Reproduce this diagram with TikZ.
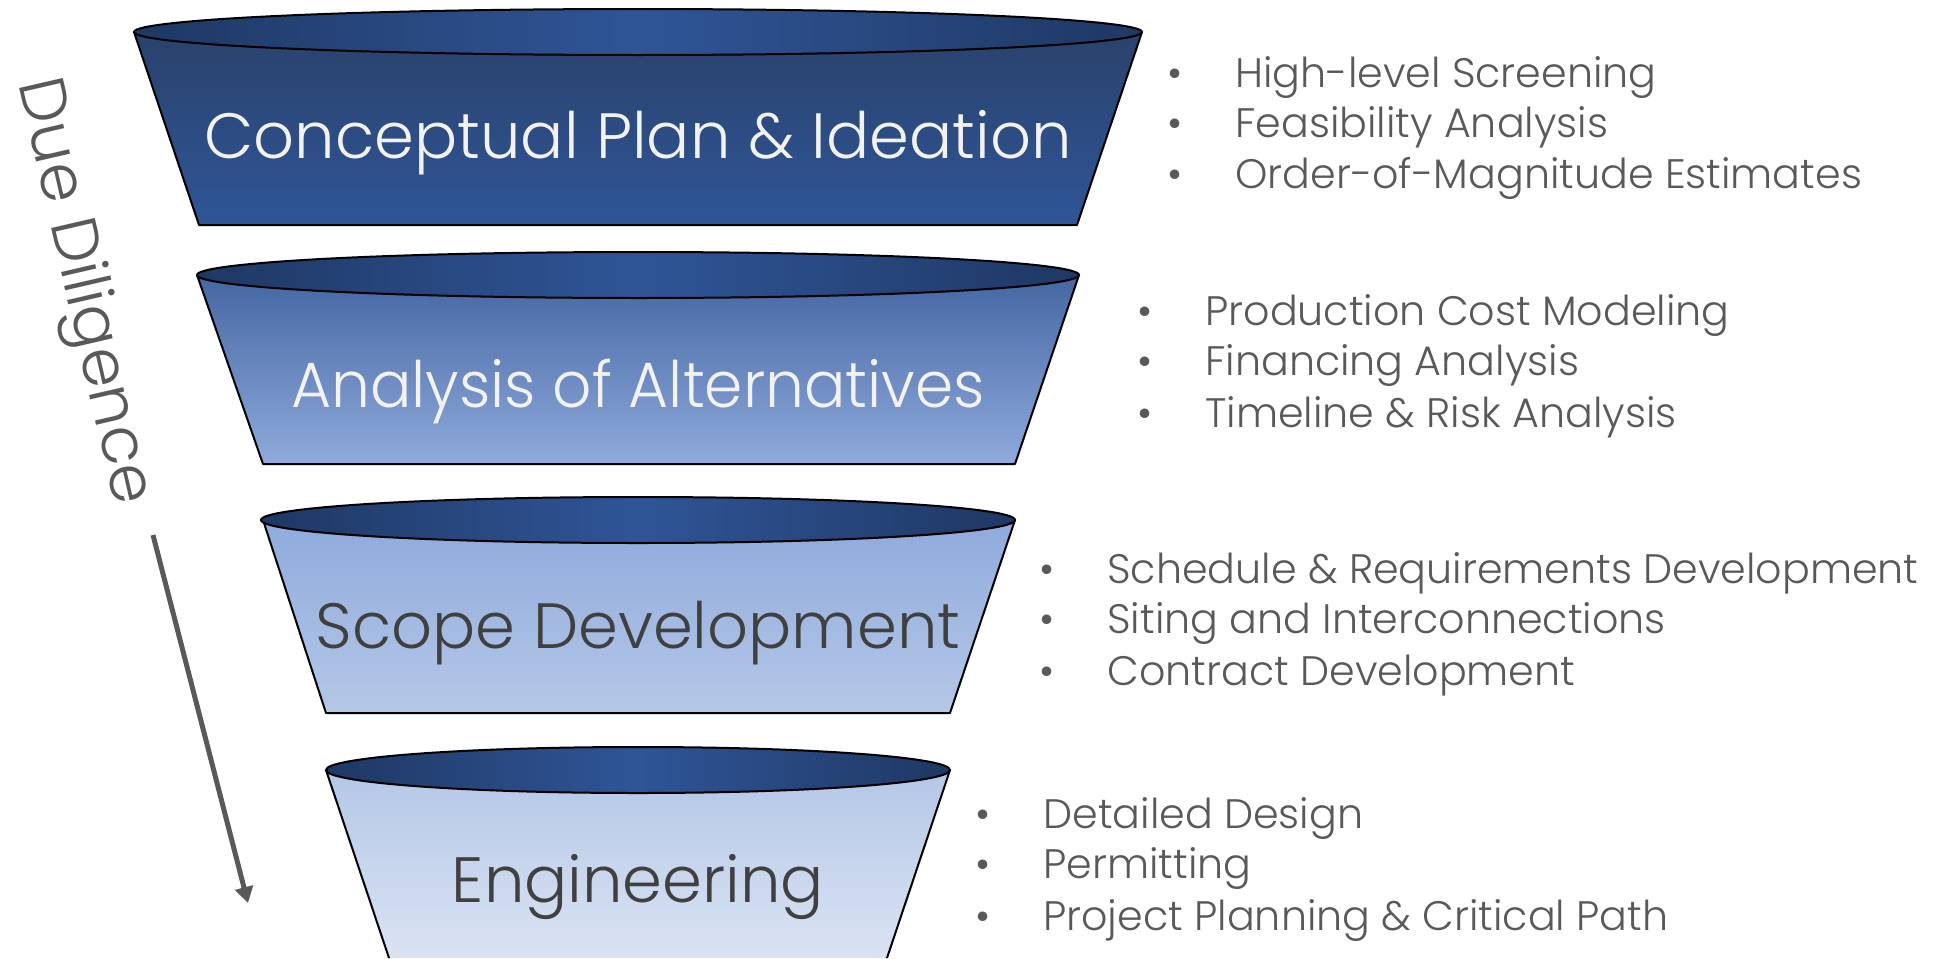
\documentclass[tikz,border=0pt]{standalone}
\usepackage{fontspec}
\setmainfont{Poppins}[UprightFont=* Light]
\usetikzlibrary{arrows.meta}

\definecolor{rimdark}{HTML}{1F3864}
\definecolor{rimlight}{HTML}{2F5597}
\definecolor{lightwhite}{HTML}{F2F2F2}
\definecolor{darkgray}{HTML}{404040}
\definecolor{midgray}{HTML}{595959}

\newcommand{\bull}{\makebox[34pt][l]{•}}

\tikzset{
  rim/.style={draw=black, line width=1pt, left color=rimdark, right color=rimdark, middle color=rimlight},
  side/.style={draw=black, line width=1pt, line join=round},
  stage/.style={anchor=base, inner sep=0pt, font=\fontsize{32}{32}\selectfont},
  item/.style={anchor=base west, inner sep=0pt, text=midgray, font=\fontsize{20.6}{21}\selectfont},
}

\begin{document}
\begin{tikzpicture}[x=0.5pt, y=-0.5pt]
  \useasboundingbox (0,0) rectangle (1947,958);

  \begin{scope}
    \clip (0,0) rectangle (1947,958);

    % first cup
    \shade[top color=rimdark!95!white, bottom color=rimlight] (134,32) -- (199,225) -- (1077,225) -- (1142,32) -- cycle;
    \draw[side] (134,32) -- (199,225) -- (1077,225) -- (1142,32);
    \path[rim] (638,32) ellipse [x radius=252pt, y radius=11.5pt];

    % second cup
    \shade[top color=rimlight!90!white, bottom color={rgb,255:red,143;green,170;blue,220}] (197,275) -- (263,464) -- (1015,464) -- (1079,275) -- cycle;
    \draw[side] (197,275) -- (263,464) -- (1015,464) -- (1079,275);
    \path[rim] (638,275) ellipse [x radius=220.5pt, y radius=11.5pt];

    % third cup
    \shade[top color={rgb,255:red,143;green,170;blue,220}, bottom color={rgb,255:red,180;green,199;blue,231}] (263,520) -- (326,713) -- (950,713) -- (1015,520) -- cycle;
    \draw[side] (263,520) -- (326,713) -- (950,713) -- (1015,520);
    \path[rim] (638,520) ellipse [x radius=188.5pt, y radius=11.5pt];

    % fourth cup, runs off the bottom
    \shade[top color={rgb,255:red,180;green,199;blue,231}, bottom color={rgb,255:red,218;green,227;blue,243}] (326,770) -- (389,958) -- (887,958) -- (950,770) -- cycle;
    \draw[side] (326,770) -- (389,958);
    \draw[side] (887,958) -- (950,770);
    \path[rim] (638,770) ellipse [x radius=156pt, y radius=11.5pt];
  \end{scope}

  % stage names
  \node[stage, text=lightwhite] (concept) at (638,158) {Conceptual Plan \& Ideation};
  \node[stage, text=lightwhite] (alts)    at (638,407) {\scalebox{0.96}[1]{Analysis of Alternatives}};
  \node[stage, text=darkgray]   (scope)   at (638,648) {Scope Development};
  \node[stage, text=darkgray]   (eng)     at (638,902) {Engineering};

  % bullet lists
  \node[item] (l1a) at (1167,87)  {\bull High-level Screening};
  \node[item] (l1b) at (1167,137) {\bull Feasibility Analysis};
  \node[item] (l1c) at (1167,188) {\bull Order-of-Magnitude Estimates};

  \node[item] (l2a) at (1137,325) {\bull Production Cost Modeling};
  \node[item] (l2b) at (1137,375) {\bull Financing Analysis};
  \node[item] (l2c) at (1137,427) {\bull Timeline \& Risk Analysis};

  \node[item] (l3a) at (1039,583) {\bull Schedule \& Requirements Development};
  \node[item] (l3b) at (1039,633) {\bull Siting and Interconnections};
  \node[item] (l3c) at (1039,685) {\bull Contract Development};

  \node[item] (l4a) at (975,828) {\bull Detailed Design};
  \node[item] (l4b) at (975,878) {\bull Permitting};
  \node[item] (l4c) at (975,930) {\bull Project Planning \& Critical Path};

  % due diligence arrow
  \node[rotate=-77, text=midgray, font=\fontsize{32}{32}\selectfont] (dd) at (82,292) {Due Diligence};
  \coordinate (ddtop) at (153,535);
  \coordinate (ddtip) at (248,903);
  \draw[midgray, line width=2.5pt, -{Triangle[length=8pt, width=9pt]}] (ddtop) -- (ddtip);
\end{tikzpicture}
\end{document}
